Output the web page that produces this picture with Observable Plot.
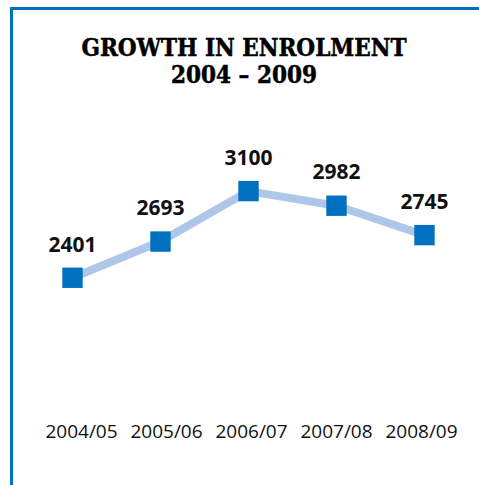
<!DOCTYPE html>
<html>
<head>
<meta charset="utf-8">
<script src="https://cdn.jsdelivr.net/npm/d3@7"></script>
<script src="https://cdn.jsdelivr.net/npm/@observablehq/plot@0.6"></script>
<style>
  html, body { margin: 0; padding: 0; background: #fff; }
  #wrap { position: relative; width: 479px; height: 485px; overflow: hidden; background: #fff; }
  #topline { position: absolute; left: 10px; top: 7px; width: 469px; height: 2.5px; background: #0070c0; }
  #leftline { position: absolute; left: 10px; top: 7px; width: 3px; height: 478px; background: #0070c0; }
  .title { position: absolute; left: 0; width: 488px; text-align: center; font-family: "DejaVu Serif Condensed", "DejaVu Serif", serif; font-weight: bold; color: #000; line-height: 1; -webkit-text-stroke: 0.5px #000; }
  #t1 { top: 36px; font-size: 24px; }
  #t2 { top: 63px; font-size: 24px; }
  #chart, #axis { position: absolute; left: 0; }
  #chart { top: 0; }
  #axis { top: 424px; }
</style>
</head>
<body>
<div id="wrap">
  <div id="topline"></div>
  <div id="leftline"></div>
  <div class="title" id="t1">GROWTH IN ENROLMENT</div>
  <div class="title" id="t2">2004 – 2009</div>
  <div id="chart"></div>
  <div id="axis"></div>
</div>
<script>
const years = ["2004/05", "2005/06", "2006/07", "2007/08", "2008/09"];
const enrolment = [2401, 2693, 3100, 2982, 2745];

const data = years.map((y, i) => ({year: y, value: enrolment[i]}));

const chart = Plot.plot({
  width: 479,
  height: 400,
  marginLeft: 71,
  marginRight: 54,
  marginTop: 141,
  marginBottom: 73,
  style: {background: "transparent", overflow: "visible"},
  x: {type: "point", domain: years, padding: 0, axis: null},
  y: {domain: [2000, 3500], axis: null},
  marks: [
    Plot.line(data, {x: "year", y: "value", stroke: "#aec6e8", strokeWidth: 8}),
    Plot.dot(data, {x: "year", y: "value", symbol: "square", r: 11.5, fill: "#0070c0", stroke: "none"}),
    Plot.text(data, {x: "year", y: "value", text: d => String(d.value), dy: -33, fontSize: 21, fontWeight: "bold", fontFamily: "Open Sans", fill: "#111"})
  ]
});
document.getElementById("chart").appendChild(chart);

const axis = Plot.plot({
  width: 479,
  height: 40,
  marginLeft: 81,
  marginRight: 58,
  marginTop: 0,
  marginBottom: 40,
  style: {background: "transparent", overflow: "visible"},
  x: {type: "point", domain: years, padding: 0},
  marks: [
    Plot.axisX({anchor: "top", tickSize: 0, tickPadding: 0, fontSize: 19, fontFamily: "Open Sans", fill: "#111", label: null, lineAnchor: "top"})
  ]
});
document.getElementById("axis").appendChild(axis);
</script>
</body>
</html>
